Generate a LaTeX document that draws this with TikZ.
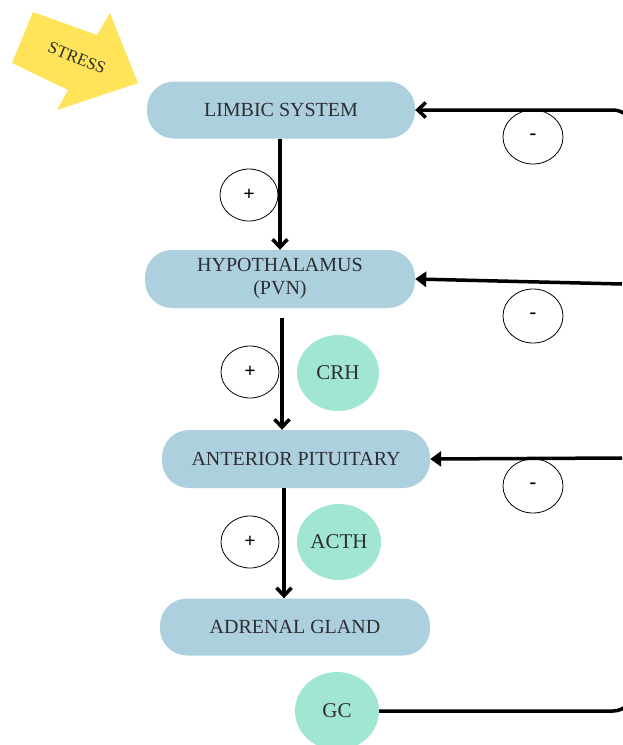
\documentclass[tikz,border=0pt]{standalone}
\usepackage{fontspec}
\setmainfont{Liberation Serif}
\usetikzlibrary{arrows.meta,shapes.geometric}
\definecolor{boxblue}{RGB}{173,208,222}
\definecolor{mint}{RGB}{160,230,211}
\definecolor{stressy}{RGB}{255,228,90}
\definecolor{txt}{RGB}{45,45,50}
\tikzset{
  box/.style={fill=boxblue, rounded corners=27pt, minimum height=57pt, text=txt,
    font=\fontsize{20}{23}\selectfont, align=center, inner sep=0pt},
  hormone/.style={ellipse, fill=mint, text=txt, font=\fontsize{21}{24}\selectfont, inner sep=0pt},
  sign/.style={ellipse, draw=black, line width=0.8pt, minimum width=58pt, minimum height=52pt,
    font=\bfseries\fontsize{20}{20}\selectfont, inner sep=0pt},
  varrow/.style={line width=3.5pt, -{Straight Barb[length=8pt,width=15pt,line width=3.5pt]}},
  fbarrow/.style={line width=3.5pt, -{Triangle[length=11pt,width=15pt]}},
  fbline/.style={line width=3.5pt}
}
\begin{document}
\begin{tikzpicture}[x=1pt,y=-1pt]
\useasboundingbox (0,0) rectangle (622,745);
% stress arrow
\fill[stressy] (33,12) -- (97,35) -- (110,13) -- (138,83) -- (57,110) -- (68,90) -- (12,63) -- cycle;
\node[rotate=-22, text=txt, font=\fontsize{17}{20}\selectfont] (stress) at (77,58) {STRESS};
% boxes
\node[box, minimum width=268pt] (limbic) at (281,110) {LIMBIC SYSTEM};
\node[box, minimum width=270pt, minimum height=58pt] (hypo) at (280,279) {HYPOTHALAMUS\\(PVN)};
\node[box, minimum width=268pt, minimum height=58pt] (ant) at (296,459) {ANTERIOR PITUITARY};
\node[box, minimum width=270pt] (adr) at (295,627) {ADRENAL GLAND};
% hormones
\node[hormone, minimum width=82pt, minimum height=76pt] (crh) at (338,373) {CRH};
\node[hormone, minimum width=84pt, minimum height=76pt] (acth) at (339,542) {ACTH};
\node[hormone, minimum width=84pt, minimum height=78pt] (gc) at (337,711) {GC};
% signs
\node[sign] (p1) at (249,195) {+};
\node[sign] (p2) at (250,372) {+};
\node[sign] (p3) at (250,542) {+};
\node[sign, minimum width=60pt, minimum height=54pt] (m1) at (533,137) {-};
\node[sign, minimum width=60pt, minimum height=54pt] (m2) at (533,316) {-};
\node[sign, minimum width=60pt, minimum height=54pt] (m3) at (533,486) {-};
% forward arrows
\draw[varrow] (limbic.south -| 280,0) -- (hypo.north);
\draw[varrow] ([xshift=2pt,yshift=-10pt]hypo.south) -- ([xshift=2pt]hypo.south |- ant.north);
\draw[varrow] ([xshift=-12pt]ant.south) -- ([xshift=-12pt]ant.south |- adr.north);
% feedback
\coordinate (cb) at (633,711);
\coordinate (ct) at (633,110);
\coordinate (r2) at (622,284);
\coordinate (r3) at (622,458);
\draw[fbline, rounded corners=20pt, -{Straight Barb[length=8pt,width=15pt,line width=3.5pt]}] (gc.east) -- (cb) -- (ct) -- (limbic.east);
\draw[fbarrow] (r2) -- (hypo.east);
\draw[fbarrow] (r3) -- (ant.east);
\end{tikzpicture}
\end{document}
